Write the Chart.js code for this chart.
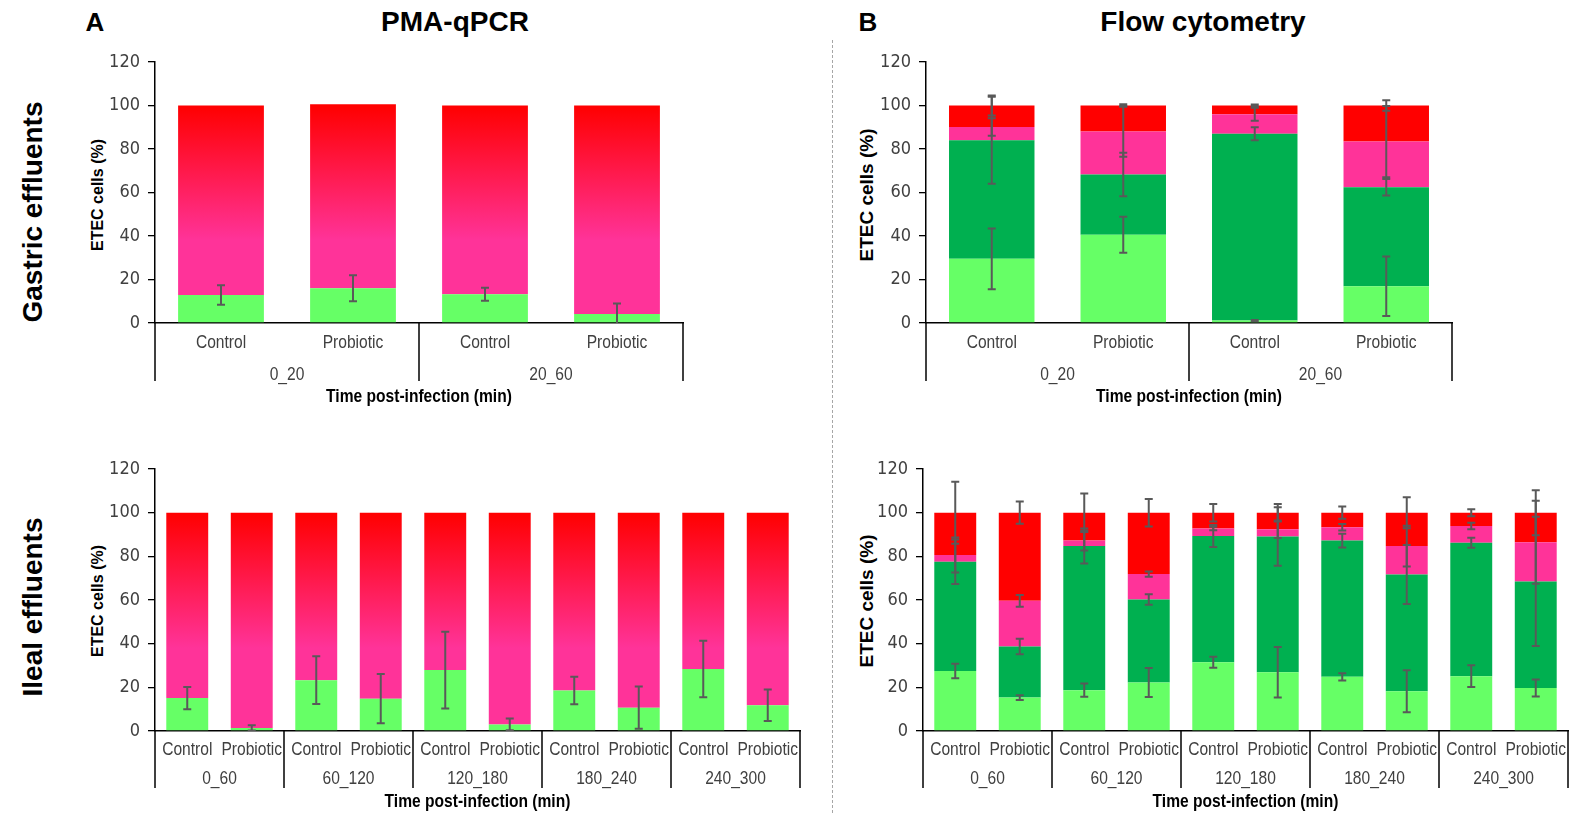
<!DOCTYPE html>
<html>
<head>
<meta charset="utf-8">
<script src="https://cdn.jsdelivr.net/npm/chart.js@4.4.1/dist/chart.umd.min.js"></script>
<style>
  html, body { margin: 0; padding: 0; background: #fff; overflow: hidden; }
  #page { position: relative; width: 1570px; height: 813px; font-family: 'Liberation Sans', Arial, sans-serif; }
  .c { position: absolute; }
  .lbl { position: absolute; transform: translate(-50%, -50%); white-space: nowrap; font-weight: bold; color: #000; line-height: 1; }
  .rot { transform: translate(-50%, -50%) rotate(-90deg); }
  #sep { position: absolute; left: 832px; top: 40px; height: 773px; border-left: 1px dashed #a6a6a6; }
</style>
</head>
<body>
<div id="page">
  <div class="lbl" style="left:95px;top:22px;font-size:26px">A</div>
  <div class="lbl" style="left:455px;top:22px;font-size:28px">PMA-qPCR</div>
  <div class="lbl" style="left:868px;top:22px;font-size:26px">B</div>
  <div class="lbl" style="left:1203px;top:22px;font-size:28px">Flow cytometry</div>
  <div class="lbl rot" style="left:33px;top:212px;font-size:28px">Gastric effluents</div>
  <div class="lbl rot" style="left:33px;top:607px;font-size:28px">Ileal effluents</div>
  <div class="lbl rot" style="left:98px;top:195px;font-size:16px">ETEC cells (%)</div>
  <div class="lbl rot" style="left:866px;top:195px;font-size:19px">ETEC cells (%)</div>
  <div class="lbl rot" style="left:98px;top:601px;font-size:16px">ETEC cells (%)</div>
  <div class="lbl rot" style="left:866px;top:601px;font-size:19px">ETEC cells (%)</div>
  <div id="sep"></div>
  <canvas id="pmaGastric" class="c"></canvas>
  <canvas id="flowGastric" class="c"></canvas>
  <canvas id="pmaIleal" class="c"></canvas>
  <canvas id="flowIleal" class="c"></canvas>
</div>
<script>
// categories and tick labels
const gastricCategories = ['Control', 'Probiotic', 'Control', 'Probiotic'];
const gastricGroups = ['0_20', '20_60'];
const ilealCategories = ['Control', 'Probiotic', 'Control', 'Probiotic', 'Control', 'Probiotic',
                         'Control', 'Probiotic', 'Control', 'Probiotic'];
const ilealGroups = ['0_60', '60_120', '120_180', '180_240', '240_300'];
const yTickValues = [0, 20, 40, 60, 80, 100, 120];
const xTitle = 'Time post-infection (min)';

// A - PMA-qPCR, gastric
const pmaGastricViable = [12.9, 16.0, 13.2, 4.1];
const pmaGastricViableErr = [4.5, 6.0, 3.0, 4.9];
const pmaGastricDead = [87.1, 84.6, 86.8, 95.9];

// A - PMA-qPCR, ileal
const pmaIlealViable = [15.1, 1.4, 23.3, 14.8, 27.9, 3.0, 18.5, 10.7, 28.4, 11.8];
const pmaIlealViableErr = [5.1, 1.2, 10.9, 11.3, 17.6, 2.7, 6.3, 9.7, 12.9, 7.2];
const pmaIlealDead = [84.9, 98.6, 76.7, 85.2, 72.1, 97.0, 81.5, 89.3, 71.6, 88.2];

// B - flow cytometry, gastric (4 populations)
const flowGastricLightGreen = [29.5, 40.6, 1.1, 16.9];
const flowGastricDarkGreen = [54.5, 27.7, 85.9, 45.5];
const flowGastricPink = [6.1, 19.8, 9.0, 21.0];
const flowGastricRed = [9.9, 11.9, 4.0, 16.6];
const flowGastricLightGreenErr = [14.0, 8.3, 0.3, 13.7];
const flowGastricDarkGreenErr = [20.0, 10.0, 3.0, 3.8];
const flowGastricPinkErr = [4.0, 11.7, 3.0, 16.4];
const flowGastricRedErr = [4.6, 0.6, 0.5, 2.4];

// B - flow cytometry, ileal
const flowIlealLightGreen = [27.5, 15.3, 18.7, 22.2, 31.5, 26.9, 24.8, 18.2, 25.1, 19.7];
const flowIlealDarkGreen = [50.0, 23.4, 66.0, 38.0, 57.8, 62.2, 62.4, 53.5, 61.1, 48.8];
const flowIlealPink = [3.1, 20.9, 2.5, 11.7, 3.5, 3.3, 6.1, 13.0, 7.7, 18.0];
const flowIlealRed = [19.4, 40.4, 12.8, 28.1, 7.2, 7.6, 6.7, 15.3, 6.1, 13.5];
const flowIlealLightGreenErr = [3.3, 1.1, 3.0, 6.6, 2.5, 11.6, 1.7, 9.6, 5.0, 3.9];
const flowIlealDarkGreenErr = [10.2, 3.5, 8.0, 2.4, 5.0, 13.4, 3.2, 13.5, 2.3, 29.6];
const flowIlealPinkErr = [8.0, 2.7, 4.5, 1.2, 0.8, 4.0, 1.5, 9.3, 1.5, 19.0];
const flowIlealRedErr = [14.2, 5.1, 8.8, 6.3, 4.0, 4.0, 2.8, 7.1, 1.6, 10.3];

const lightGreen = '#66FF66';
const darkGreen = '#00B050';
const pink = '#FF3399';
const red = '#FF0000';
const narrowFont = "'Liberation Sans Narrow', 'Arial Narrow', 'DejaVu Sans Condensed', sans-serif";

// pink -> red fill, like the excel gradient
function deadGradient(ctx) {
    const chart = ctx.chart;
    if (!chart.chartArea) return pink;
    const ys = chart.scales.y;
    const g = chart.ctx.createLinearGradient(0, ys.getPixelForValue(0), 0, ys.getPixelForValue(100));
    g.addColorStop(0, pink);
    g.addColorStop(0.38, pink);
    g.addColorStop(1, red);
    return g;
}

// error bars sit on top of each stacked segment
const errorBars = {
    id: 'errorBars',
    afterDatasetsDraw(chart, args, opts) {
        const errs = opts.errs || [];
        const xs = chart.scales.x, ys = chart.scales.y, a = chart.chartArea;
        const ctx = chart.ctx;
        ctx.save();
        ctx.beginPath();
        ctx.rect(a.left, a.top - 40, a.right - a.left, a.bottom - a.top + 40);
        ctx.clip();
        ctx.strokeStyle = '#595959';
        ctx.lineWidth = 2;
        chart.data.datasets.forEach((ds, d) => {
            if (!errs[d]) return;
            ds.data.forEach((v, i) => {
                let cum = 0;
                for (let k = 0; k <= d; k++) cum += chart.data.datasets[k].data[i];
                const e = errs[d][i];
                const x = xs.getPixelForValue(i);
                const y1 = ys.getPixelForValue(cum + e);
                const y2 = ys.getPixelForValue(cum - e);
                ctx.beginPath();
                ctx.moveTo(x, y1); ctx.lineTo(x, y2);
                ctx.moveTo(x - 4, y1); ctx.lineTo(x + 4, y1);
                ctx.moveTo(x - 4, y2); ctx.lineTo(x + 4, y2);
                ctx.stroke();
            });
        });
        ctx.restore();
    }
};

// narrow text: squeeze Liberation Sans sideways, like Arial Narrow
function narrowText(ctx, text, x, y) {
    ctx.save();
    ctx.translate(x, y);
    ctx.scale(0.82, 1);
    ctx.fillText(text, 0, 0);
    ctx.restore();
}

// category labels, group labels, divider lines and axis title under the x axis
const xGroups = {
    id: 'xGroups',
    afterDraw(chart, args, o) {
        const xs = chart.scales.x, a = chart.chartArea, ctx = chart.ctx;
        const cats = chart.data.labels;
        const n = cats.length / o.groups.length;
        ctx.save();
        ctx.fillStyle = '#404040';
        ctx.textAlign = 'center';
        ctx.textBaseline = 'middle';
        ctx.font = "19px 'Liberation Sans', Arial, sans-serif";
        cats.forEach((c, i) => narrowText(ctx, c, xs.getPixelForValue(i), a.bottom + o.catOffset));
        o.groups.forEach((g, k) => {
            const x = (xs.getPixelForValue(k * n) + xs.getPixelForValue(k * n + n - 1)) / 2;
            narrowText(ctx, g, x, a.bottom + o.groupOffset);
        });
        ctx.strokeStyle = '#000';
        ctx.lineWidth = 1.5;
        for (let k = 0; k <= o.groups.length; k++) {
            let x;
            if (k === 0) x = a.left;
            else if (k === o.groups.length) x = a.right;
            else x = (xs.getPixelForValue(k * n - 1) + xs.getPixelForValue(k * n)) / 2;
            ctx.beginPath();
            ctx.moveTo(x, a.bottom);
            ctx.lineTo(x, a.bottom + o.lineLen);
            ctx.stroke();
        }
        ctx.fillStyle = '#000';
        ctx.font = "bold 19px 'Liberation Sans', Arial, sans-serif";
        narrowText(ctx, xTitle, (a.left + a.right) / 2, a.bottom + o.titleOffset);
        ctx.restore();
    }
};

const M = { left: 80, top: 14, right: 12, bottom: 90 };

function makeChart(id, area, labels, groups, datasets, errs, offsets) {
    const cv = document.getElementById(id);
    cv.width = area.right - area.left + M.left + M.right;
    cv.height = area.bottom - area.top + M.top + M.bottom;
    cv.style.left = (area.left - M.left) + 'px';
    cv.style.top = (area.top - M.top) + 'px';
    return new Chart(cv, {
        type: 'bar',
        data: { labels: labels, datasets: datasets },
        plugins: [errorBars, xGroups],
        options: {
            responsive: false,
            animation: false,
            layout: { padding: { left: 0, top: M.top, right: M.right, bottom: M.bottom } },
            datasets: { bar: { barPercentage: 0.65, categoryPercentage: 1, borderWidth: 0 } },
            plugins: {
                legend: { display: false },
                tooltip: { enabled: false },
                errorBars: { errs: errs },
                xGroups: Object.assign({ groups: groups }, offsets)
            },
            scales: {
                x: {
                    stacked: true,
                    grid: { display: true, drawOnChartArea: false, drawTicks: false },
                    border: { display: true, color: '#000', width: 1.5 },
                    ticks: { display: false },
                    afterFit(s) { s.height = 0; s.paddingLeft = 0; s.paddingRight = 0; }
                },
                y: {
                    stacked: true,
                    min: 0,
                    max: 120,
                    afterBuildTicks(s) { s.ticks = yTickValues.map(v => ({ value: v })); },
                    grid: { display: true, drawOnChartArea: false, drawTicks: true, tickLength: 7, color: '#000', lineWidth: 1.3 },
                    border: { display: true, color: '#000', width: 1.5 },
                    ticks: { color: '#404040', padding: 8, font: { family: narrowFont, size: 18 } },
                    afterFit(s) { s.width = M.left; s.paddingTop = 0; s.paddingBottom = 0; }
                }
            }
        }
    });
}

const topOffsets = { catOffset: 20, groupOffset: 52, titleOffset: 74, lineLen: 58 };
const bottomOffsets = { catOffset: 19, groupOffset: 48, titleOffset: 71, lineLen: 57 };

makeChart('pmaGastric', { left: 155, right: 683, top: 62, bottom: 323 },
    gastricCategories, gastricGroups,
    [
        { label: 'Viable', data: pmaGastricViable, backgroundColor: lightGreen },
        { label: 'Dead', data: pmaGastricDead, backgroundColor: deadGradient }
    ],
    [pmaGastricViableErr], topOffsets);

makeChart('flowGastric', { left: 926, right: 1452, top: 62, bottom: 323 },
    gastricCategories, gastricGroups,
    [
        { label: 'Live', data: flowGastricLightGreen, backgroundColor: lightGreen },
        { label: 'Live 2', data: flowGastricDarkGreen, backgroundColor: darkGreen },
        { label: 'Injured', data: flowGastricPink, backgroundColor: pink },
        { label: 'Dead', data: flowGastricRed, backgroundColor: red }
    ],
    [flowGastricLightGreenErr, flowGastricDarkGreenErr, flowGastricPinkErr, flowGastricRedErr], topOffsets);

makeChart('pmaIleal', { left: 155, right: 800, top: 469, bottom: 731 },
    ilealCategories, ilealGroups,
    [
        { label: 'Viable', data: pmaIlealViable, backgroundColor: lightGreen },
        { label: 'Dead', data: pmaIlealDead, backgroundColor: deadGradient }
    ],
    [pmaIlealViableErr], bottomOffsets);

makeChart('flowIleal', { left: 923, right: 1568, top: 469, bottom: 731 },
    ilealCategories, ilealGroups,
    [
        { label: 'Live', data: flowIlealLightGreen, backgroundColor: lightGreen },
        { label: 'Live 2', data: flowIlealDarkGreen, backgroundColor: darkGreen },
        { label: 'Injured', data: flowIlealPink, backgroundColor: pink },
        { label: 'Dead', data: flowIlealRed, backgroundColor: red }
    ],
    [flowIlealLightGreenErr, flowIlealDarkGreenErr, flowIlealPinkErr, flowIlealRedErr], bottomOffsets);
</script>
</body>
</html>
